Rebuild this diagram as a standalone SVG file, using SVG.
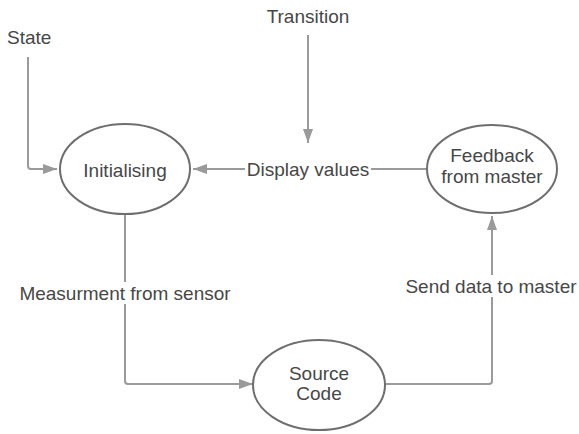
<svg xmlns="http://www.w3.org/2000/svg" width="579" height="434" viewBox="0 0 579 434">
<style>
.node ellipse{fill:#fff;stroke:#6e6e6e;stroke-width:2}
text{font-family:"Liberation Sans",Arial,sans-serif;font-size:19px;fill:#474747}
.mid{text-anchor:middle}
.edge{fill:none;stroke:#9a9a9a;stroke-width:2}
.lbl{fill:#fff}
</style>
<defs>
<marker id="ah" viewBox="0 0 14 10" refX="14" refY="5" markerWidth="14" markerHeight="10" markerUnits="userSpaceOnUse" orient="auto">
<path d="M0,0 L14,5 L0,10 z" fill="#9a9a9a"/>
</marker>
</defs>
<rect width="579" height="434" fill="#fff"/>
<g id="connectors">
<path class="edge" d="M28,57 V166 Q28,169 31,169 H57" marker-end="url(#ah)"/>
<path class="edge" d="M308,35 V143" marker-end="url(#ah)"/>
<path class="edge" d="M427,169 H193" marker-end="url(#ah)"/>
<path class="edge" d="M125,214 V381 Q125,384 128,384 H253" marker-end="url(#ah)"/>
<path class="edge" d="M385,384 H489 Q492,384 492,381 V216" marker-end="url(#ah)"/>
<rect class="lbl" x="245" y="158" width="126" height="22"/>
<rect class="lbl" x="16" y="282" width="218" height="22"/>
<rect class="lbl" x="403" y="275" width="176" height="22"/>
<text x="308" y="169" class="mid" dominant-baseline="central">Display values</text>
<text x="125" y="293" class="mid" dominant-baseline="central">Measurment from sensor</text>
<text x="491" y="286" class="mid" dominant-baseline="central">Send data to master</text>
</g>
<g id="state"><text x="7" y="37" dominant-baseline="central">State</text></g>
<g id="transition"><text x="308" y="16" class="mid" dominant-baseline="central">Transition</text></g>
<g id="initialising" class="node">
<ellipse cx="125" cy="169" rx="65" ry="45"/>
<text x="125" y="170" class="mid" dominant-baseline="central">Initialising</text>
</g>
<g id="feedback" class="node">
<ellipse cx="492" cy="169" rx="65" ry="44"/>
<text x="492" y="155" class="mid" dominant-baseline="central">Feedback</text>
<text x="492" y="176" class="mid" dominant-baseline="central">from master</text>
</g>
<g id="source" class="node">
<ellipse cx="319" cy="385" rx="66" ry="45"/>
<text x="319" y="373" class="mid" dominant-baseline="central">Source</text>
<text x="319" y="393" class="mid" dominant-baseline="central">Code</text>
</g>
</svg>
